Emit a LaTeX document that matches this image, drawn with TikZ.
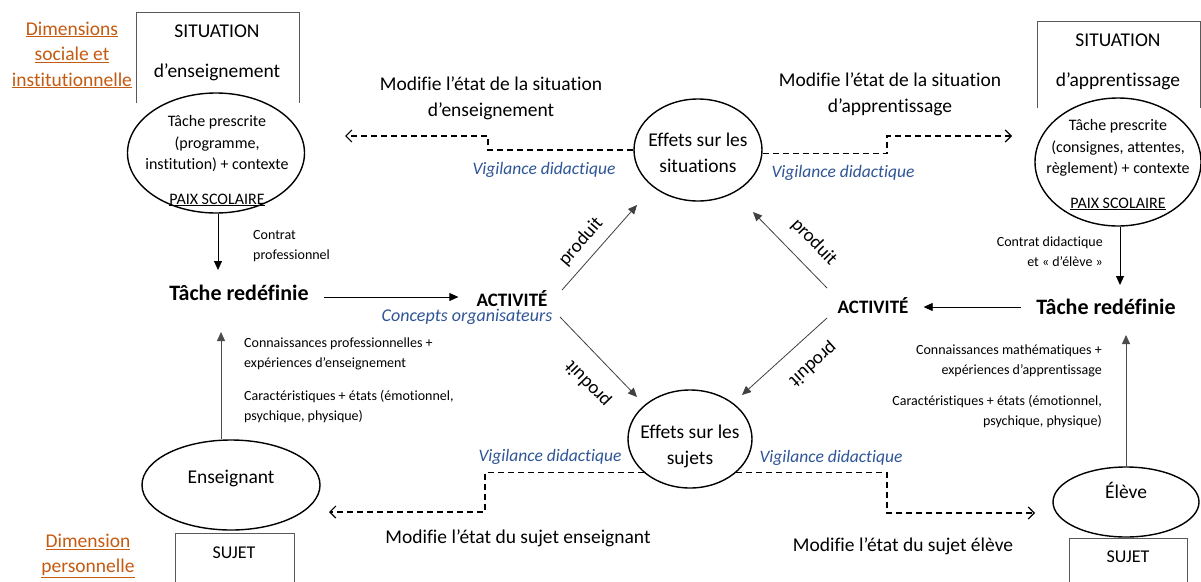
\documentclass[tikz,border=0pt]{standalone}
\usepackage{fontspec}
\setmainfont{Carlito}[Ligatures={NoCommon}]
\usetikzlibrary{arrows.meta,shapes.geometric,calc}
\definecolor{orng}{HTML}{C55A11}
\definecolor{vblue}{HTML}{2F5597}
\newcommand{\fsz}[2]{\fontsize{#1}{#2}\selectfont}
\begin{document}
\begin{tikzpicture}[x=1pt,y=-1pt,
  txt/.style={inner sep=0pt, align=center, font=\fsz{19.5}{26}},
  ptxt/.style={inner sep=0pt, align=center, font=\fsz{16}{21.5}},
  small/.style={inner sep=0pt, font=\fsz{14}{20}},
  vig/.style={inner sep=0pt, font=\fsz{17.5}{21}\itshape, text=vblue},
  dim/.style={inner sep=0pt, align=center, text=orng, font=\fsz{19.5}{25.5}},
  bold/.style={inner sep=0pt, font=\fsz{22}{26}\bfseries},
  act/.style={inner sep=0pt, font=\fsz{19}{24}\bfseries},
  ell/.style={ellipse, draw, line width=1.4pt, fill=white, inner sep=0pt},
  arr/.style={-{Triangle[length=9pt,width=8pt]}, line width=0.8pt},
  dsh/.style={dash pattern=on 6pt off 4pt, line width=1.2pt, -{Straight Barb[length=6pt,width=12pt,line width=1.2pt]}},
  sbox/.style={draw=black!65, line width=1pt},
  prod/.style={inner sep=0pt, font=\fsz{19}{22}},
]
\useasboundingbox (0,0) rectangle (1201,581);
\clip (0,0) rectangle (1201,581);
\fill[white] (0,0) rectangle (1201,581);

% orange labels
\node[dim] (dimsoc) at (72,55) {\underline{Dimensions}\\\underline{sociale et}\\\underline{institutionnelle}};
\node[dim] (dimpers) at (88,556) {\underline{Dimension}\\\underline{personnelle}};

% top-left situation
\draw[sbox] (136,103) -- (136,12) -- (299,12) -- (299,103);
\node[txt] (sit1) at (217,31) {SITUATION};
\node[txt] (sit1b) at (217,72) {d’enseignement};
\node[ell, minimum width=177pt, minimum height=120pt] (ell1) at (216,153) {};
\node[ptxt] (tp1) at (217,144) {Tâche prescrite\\(programme,\\institution) + contexte};
\node[ptxt] (paix1) at (217,200) {\underline{PAIX SCOLAIRE}};

% top-right situation
\draw[sbox] (1037,108) -- (1037,21) -- (1200,21) -- (1200,108);
\node[txt] (sit2) at (1118,40) {SITUATION};
\node[txt] (sit2b) at (1118,81) {d’apprentissage};
\node[ell, minimum width=166pt, minimum height=128pt] (ell2) at (1118,162) {};
\node[ptxt] (tp2) at (1118,148) {Tâche prescrite\\(consignes, attentes,\\règlement) + contexte};
\node[ptxt] (paix2) at (1118,204) {\underline{PAIX SCOLAIRE}};

% tasks and activities
\node[bold] (tache1) at (239,293) {Tâche redéfinie};
\node[bold] (tache2) at (1106,307) {Tâche redéfinie};
\node[act] (act1) at (512,299) {ACTIVITÉ};
\node[act] (act2) at (873,306) {ACTIVITÉ};
\node[vig, font=\fsz{18}{21}\itshape] (conc) at (467,317) {Concepts organisateurs};

% vertical arrows left
\coordinate (t1top) at (218,270);
\draw[arr] (t1top |- ell1.south) -- (t1top);
\node[small, anchor=west, align=left] (cp) at (253,246) {Contrat\\professionnel};

\node[ell, minimum width=178pt, minimum height=90pt] (ens) at (231,485) {};
\node[txt] (enst) at (231,478) {Enseignant};
\coordinate (u1) at (221,332);
\draw[arr, draw=black!70] (u1 |- ens.north) -- (u1);
\node[small, anchor=west, align=left] (ck1) at (244,354) {Connaissances professionnelles +\\expériences d’enseignement};
\node[small, anchor=west, align=left] (ck2) at (244,407) {Caractéristiques + états (émotionnel,\\psychique, physique)};
\draw[sbox] (175,590) -- (175,533) -- (294,533) -- (294,590);
\node[txt, font=\fsz{18}{22}] (suj1) at (234,553) {SUJET};

% vertical arrows right
\coordinate (d2) at (1120,285);
\draw[arr] (d2 |- ell2.south) -- (d2);
\node[small, anchor=east, align=right] (cd) at (1103,252) {Contrat didactique\\et «~d’élève~»};

\node[ell, minimum width=146pt, minimum height=70pt] (eleve) at (1126,502) {};
\node[txt] (elevet) at (1126,490) {Élève};
\coordinate (u2) at (1126,335);
\draw[arr, draw=black!70] (eleve) -- (u2);
\node[small, anchor=east, align=right] (ck3) at (1102,361) {Connaissances mathématiques +\\expériences d’apprentissage};
\node[small, anchor=east, align=right] (ck4) at (1102,412) {Caractéristiques + états (émotionnel,\\psychique, physique)};
\draw[sbox] (1069,590) -- (1069,538) -- (1187,538) -- (1187,590);
\node[txt, font=\fsz{18}{22}] (suj2) at (1128,557) {SUJET};

% horizontal arrows
\coordinate (h1s) at (324,297);
\draw[arr] (h1s) -- (h1s -| act1.west) [shorten >=18pt];
\coordinate (h2s) at (1021,307);
\draw[arr] (h2s) -- (h2s -| act2.east) [shorten >=15pt];

% effects ellipses
\node[ell, minimum width=128pt, minimum height=102pt] (effS) at (698,150) {};
\node[txt] (effSt) at (698,153) {Effets sur les\\situations};
\node[ell, minimum width=124pt, minimum height=98pt] (effJ) at (690,439) {};
\node[txt] (effJt) at (690,446) {Effets sur les\\sujets};

% diamond arrows
\coordinate (p1s) at (562,290); \coordinate (p1e) at (637,205);
\coordinate (p2s) at (827,288); \coordinate (p2e) at (753,212);
\coordinate (p3s) at (560,317); \coordinate (p3e) at (637,397);
\coordinate (p4s) at (827,318); \coordinate (p4e) at (742,395);
\draw[arr, draw=black!75] (p1s) -- (p1e);
\draw[arr, draw=black!75] (p2s) -- (p2e);
\draw[arr, draw=black!75] (p3s) -- (p3e);
\draw[arr, draw=black!75] (p4s) -- (p4e);
\node[prod, rotate=49] (pr1) at (581,242) {produit};
\node[prod, rotate=-46] (pr2) at (814,242) {produit};
\node[prod, rotate=134] (pr3) at (588,384) {produit};
\node[prod, rotate=-138] (pr4) at (813,364) {produit};

% dashed connectors
\coordinate (c1) at (488,136); \coordinate (e1) at (345,136);
\draw[dsh] (effS.west) -| (c1) -- (e1);
\coordinate (c2) at (887,136); \coordinate (e2) at (1012,136);
\draw[dsh] (effS.357) -| (c2) -- (e2);
\coordinate (c3) at (485,512); \coordinate (e3) at (329,512);
\draw[dsh] (effJ.216) -| (c3) -- (e3);
\coordinate (c4) at (887,513); \coordinate (e4) at (1035,513);
\draw[dsh] (effJ.324) -| (c4) -- (e4);

\node[vig] (v1) at (544,170) {Vigilance didactique};
\node[vig] (v2) at (843,173) {Vigilance didactique};
\node[vig] (v3) at (550,457) {Vigilance didactique};
\node[vig] (v4) at (831,458) {Vigilance didactique};

\node[txt] (m1) at (491,98) {Modifie l’état de la situation\\d’enseignement};
\node[txt] (m2) at (890,94) {Modifie l’état de la situation\\d’apprentissage};
\node[txt] (m3) at (518,538) {Modifie l’état du sujet enseignant};
\node[txt] (m4) at (903,546) {Modifie l’état du sujet élève};
\end{tikzpicture}
\end{document}
